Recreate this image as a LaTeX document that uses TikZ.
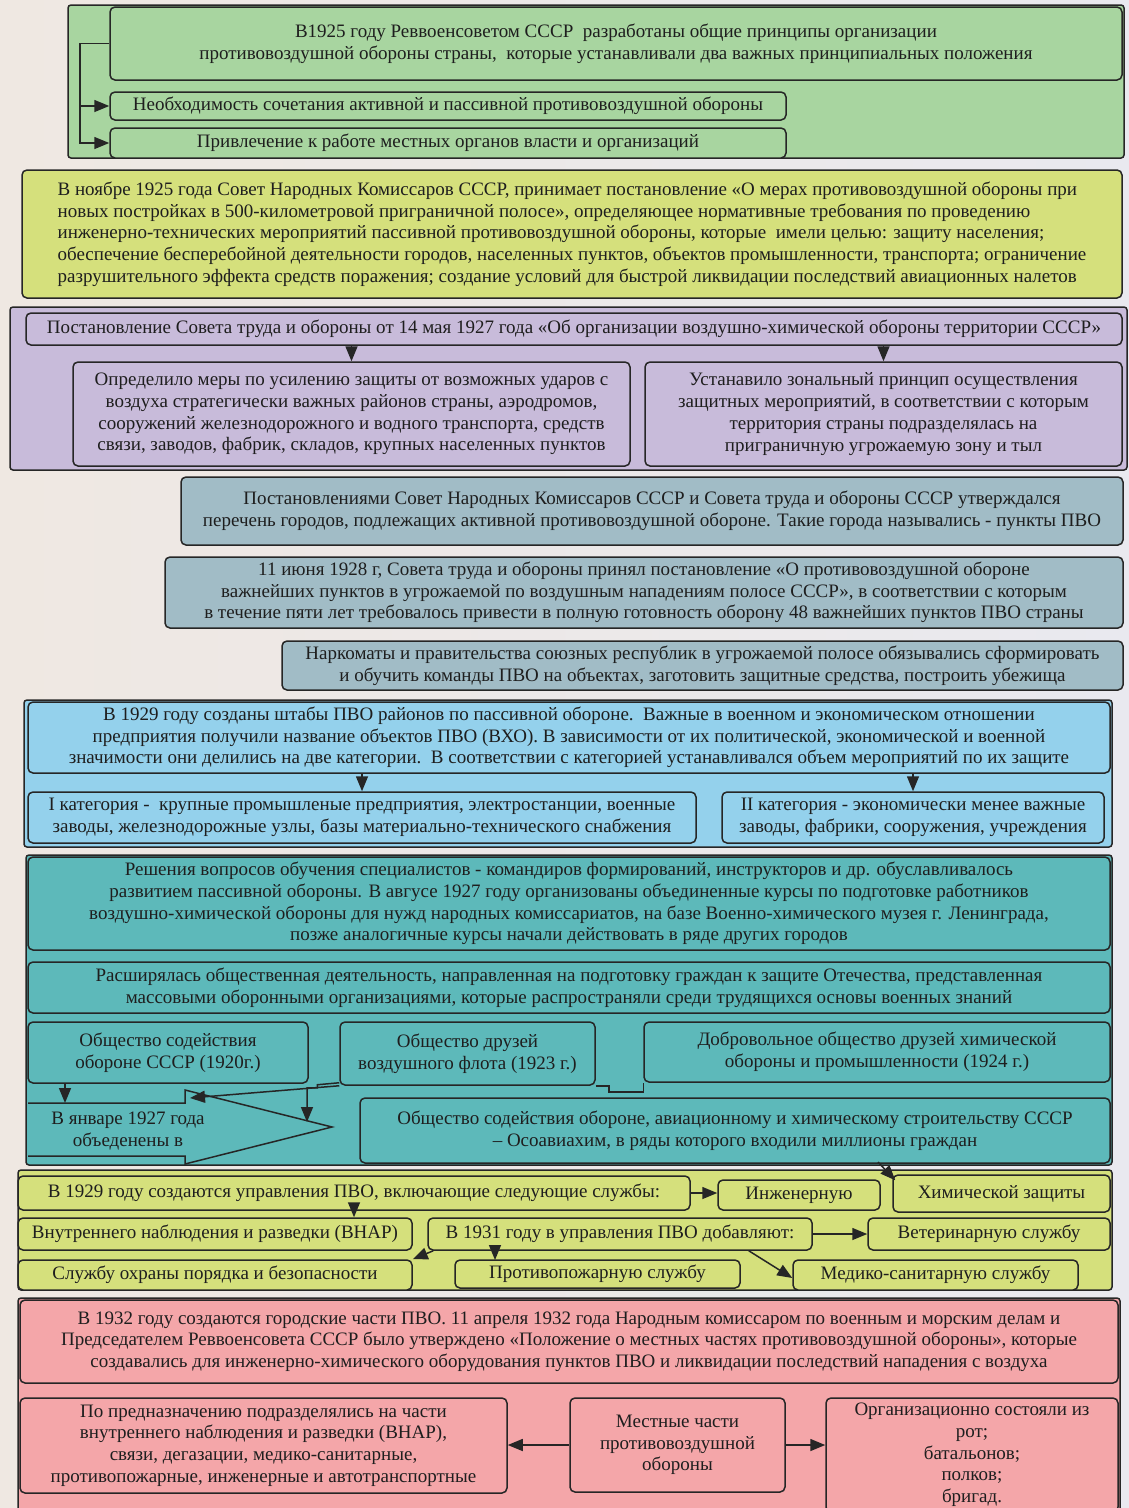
\documentclass[tikz,border=0pt]{standalone}
\usepackage{fontspec}
\setmainfont{Liberation Serif}
\usetikzlibrary{arrows.meta,positioning,calc}
\definecolor{edge}{HTML}{262626}
\definecolor{ink}{HTML}{1E1E1E}
\definecolor{bgl}{HTML}{EFE8E2}
\definecolor{bgr}{HTML}{E9E9EF}
\definecolor{grn}{HTML}{A8D5A0}
\definecolor{lime}{HTML}{D5E07C}
\definecolor{purp}{HTML}{C8BBDA}
\definecolor{slate}{HTML}{A1BCC6}
\definecolor{sky}{HTML}{94D1EC}
\definecolor{teal}{HTML}{5DB9BA}
\definecolor{rose}{HTML}{F4A6A9}
\newcommand{\fs}{\fontsize{19}{21.7}\selectfont}

\begin{document}
\begin{tikzpicture}[x=1pt,y=-1pt,>={Triangle[length=15pt,width=12pt]},
 box/.style={draw=edge, line width=1.5pt, rounded corners=5pt, inner sep=2pt,
  align=center, font=\fs, text=ink},
 frame/.style={draw=edge, line width=1.5pt, rounded corners=3pt},
 conn/.style={->, draw=edge, line width=1.5pt}]
\useasboundingbox (0,0) rectangle (1129,1508);
\shade[left color=bgl, right color=bgr] (0,0) rectangle (1129,1508);

% 1925
\draw[frame, fill=grn] (68,5) rectangle (1124,158);
\node[box, fill=grn, minimum width=1012, minimum height=73] (n1top) at (616,43.5)
 {В1925 году Реввоенсоветом СССР\ \ разработаны общие принципы организации\\
  противовоздушной обороны страны,\ \ которые устанавливали два важных принципиальных положения};
\node[box, fill=grn, minimum width=676, minimum height=28] (n1a) at (448,106)
 {Необходимость сочетания активной и пассивной противовоздушной обороны};
\node[box, fill=grn, minimum width=676, minimum height=30] (n1b) at (448,143)
 {Привлечение к работе местных органов власти и организаций};
\coordinate (j1) at (80,43.5);
\draw[conn] (n1top.west) -- (j1) |- (n1a.west);
\draw[conn] (j1) |- (n1b.west);

% ноябрь 1925
\node[box, fill=lime, minimum width=1100, minimum height=128, align=left] (n2) at (572,234)
 {В ноябре 1925 года Совет Народных Комиссаров СССР, принимает постановление «О мерах противовоздушной обороны при\\
  новых постройках в 500-километровой приграничной полосе», определяющее нормативные требования по проведению\\
  инженерно-технических мероприятий пассивной противовоздушной обороны, которые\ \ имели целью: защиту населения;\\
  обеспечение бесперебойной деятельности городов, населенных пунктов, объектов промышленности, транспорта; ограничение\\
  разрушительного эффекта средств поражения; создание условий для быстрой ликвидации последствий авиационных налетов};

% 1927
\draw[frame, fill=purp] (10,307) rectangle (1127,470);
\node[box, fill=purp, minimum width=1096, minimum height=32] (n3top) at (574,329)
 {Постановление Совета труда и обороны от 14 мая 1927 года «Об организации воздушно-химической обороны территории СССР»};
\node[box, fill=purp, minimum width=557, minimum height=104] (n3a) at (351.5,414)
 {Определило меры по усилению защиты от возможных ударов с\\
  воздуха стратегически важных районов страны, аэродромов,\\
  сооружений железнодорожного и водного транспорта, средств\\
  связи, заводов, фабрик, складов, крупных населенных пунктов};
\node[box, fill=purp, minimum width=477, minimum height=104] (n3b) at (883.5,414)
 {Устанавило зональный принцип осуществления\\
  защитных мероприятий, в соответствии с которым\\
  территория страны подразделялась на\\
  приграничную угрожаемую зону и тыл};
\draw[conn] (n3top.south -| n3a.north) -- (n3a.north);
\draw[conn] (n3top.south -| n3b.north) -- (n3b.north);

% пункты ПВО
\node[box, fill=slate, minimum width=942, minimum height=68] (n4a) at (652,511)
 {Постановлениями Совет Народных Комиссаров СССР и Совета труда и обороны СССР утверждался\\
  перечень городов, подлежащих активной противовоздушной обороне. Такие города назывались - пункты ПВО};
\node[box, fill=slate, minimum width=958, minimum height=71] (n4b) at (644,592.5)
 {11 июня 1928 г, Совета труда и обороны принял постановление «О противовоздушной обороне\\
  важнейших пунктов в угрожаемой по воздушным нападениям полосе СССР», в соответствии с которым\\
  в течение пяти лет требовалось привести в полную готовность оборону 48 важнейших пунктов ПВО страны};
\node[box, fill=slate, minimum width=841, minimum height=49] (n4c) at (702.5,665.5)
 {Наркоматы и правительства союзных республик в угрожаемой полосе обязывались сформировать\\
  и обучить команды ПВО на объектах, заготовить защитные средства, построить убежища};

% 1929 категории
\draw[frame, fill=sky] (24,700) rectangle (1112,847);
\node[box, fill=sky, minimum width=1082, minimum height=71] (n5top) at (569,737.5)
 {В 1929 году созданы штабы ПВО районов по пассивной обороне.\ \ Важные в военном и экономическом отношении\\
  предприятия получили название объектов ПВО (ВХО). В зависимости от их политической, экономической и военной\\
  значимости они делились на две категории.\ \ В соответствии с категорией устанавливался объем мероприятий по их защите};
\node[box, fill=sky, minimum width=668, minimum height=51] (n5a) at (362,817.5)
 {I категория -\ \ крупные промышленые предприятия, электростанции, военные\\
  заводы, железнодорожные узлы, базы материально-технического снабжения};
\node[box, fill=sky, minimum width=382, minimum height=51] (n5b) at (913,817.5)
 {II категория - экономически менее важные\\
  заводы, фабрики, сооружения, учреждения};
\draw[conn] (n5top.south -| n5a.north) -- (n5a.north);
\draw[conn] (n5top.south -| n5b.north) -- (n5b.north);

% общества
\draw[frame, fill=teal] (26,855) rectangle (1112,1165);
\node[box, fill=teal, minimum width=1082, minimum height=93] (n6a) at (569,903.5)
 {Решения вопросов обучения специалистов - командиров формирований, инструкторов и др. обуславливалось\\
  развитием пассивной обороны. В авгусе 1927 году организованы объединенные курсы по подготовке работников\\
  воздушно-химической обороны для нужд народных комиссариатов, на базе Военно-химического музея г. Ленинграда,\\
  позже аналогичные курсы начали действовать в ряде других городов};
\node[box, fill=teal, minimum width=1082, minimum height=51] (n6b) at (569,987.5)
 {Расширялась общественная деятельность, направленная на подготовку граждан к защите Отечества, представленная\\
  массовыми оборонными организациями, которые распространяли среди трудящихся основы военных знаний};
\node[box, fill=teal, minimum width=280, minimum height=61] (n6c1) at (168,1052.5)
 {Общество содействия\\ обороне СССР (1920г.)};
\node[box, fill=teal, minimum width=255, minimum height=63] (n6c2) at (467.5,1053.5)
 {Общество друзей\\ воздушного флота (1923 г.)};
\node[box, fill=teal, minimum width=466, minimum height=60] (n6c3) at (877,1052)
 {Добровольное общество друзей химической\\ обороны и промышленности (1924 г.)};
\node[box, fill=teal, minimum width=750, minimum height=65] (n6d) at (735,1130.5)
 {Общество содействия обороне, авиационному и химическому строительству СССР\\
  -- Осоавиахим, в ряды которого входили миллионы граждан};
\draw[draw=edge, line width=1.5pt, fill=teal] (28,1103) -- (185,1103) -- (185,1090) -- (332,1127)
 -- (185,1164) -- (185,1156) -- (28,1156);
\node[font=\fs, text=ink, align=center] (n6arr) at (128,1131) {В январе 1927 года\\ объеденены в};
\coordinate (h1) at (65,1103);
\coordinate (h2) at (190,1098);
\coordinate (h3) at (307,1122);
\draw[conn] (h1 |- n6c1.south) -- (h1);
\draw[conn] (n6c2.south west) -- (h2);
\draw[conn] ([yshift=3]n6c2.south west) -- ++(-22,2) -- ++(0,3) -| (h3);
\draw[draw=edge, line width=1.5pt] (n6c2.south east) -- ++(13,0) -- ++(0,6) -| (n6c3.south west);

% службы ПВО
\draw[frame, fill=lime] (18,1170) rectangle (1112,1290);
\node[box, fill=lime, minimum width=672, minimum height=34] (n7a) at (354,1193)
 {В 1929 году создаются управления ПВО, включающие следующие службы:};
\node[box, fill=lime, minimum width=162, minimum height=30] (n7b) at (799,1195) {Инженерную};
\node[box, fill=lime, minimum width=217, minimum height=37] (n7c) at (1001.5,1193.5) {Химической защиты};
\node[box, fill=lime, minimum width=394, minimum height=32] (n7d) at (215,1234)
 {Внутреннего наблюдения и разведки (ВНАР)};
\node[box, fill=lime, minimum width=384, minimum height=32] (n7e) at (620,1234)
 {В 1931 году в управления ПВО добавляют:};
\node[box, fill=lime, minimum width=242, minimum height=32] (n7f) at (989,1234) {Ветеринарную службу};
\node[box, fill=lime, minimum width=394, minimum height=30] (n7g) at (215,1275)
 {Службу охраны порядка и безопасности};
\node[box, fill=lime, minimum width=285, minimum height=28] (n7h) at (597.5,1274) {Противопожарную службу};
\node[box, fill=lime, minimum width=285, minimum height=30] (n7i) at (935.5,1275) {Медико-санитарную службу};
\coordinate (c7c) at (878,1162);
\coordinate (c7h) at (495,1260);
\draw[conn] (n7a.east) -- (n7a.east -| n7b.west);
\draw[conn] (c7c) -- ([shift={(3,6)}]n7c.north west);
\draw[conn] (n7a.south) -- (n7a.south |- n7d.north);
\draw[conn] (n7e.east) -- (n7f.west);
\draw[conn] ([xshift=6]n7e.south west) -- (n7g.north east);
\draw[conn] (c7h |- n7e.south) -- (c7h);
\draw[conn] ([xshift=-64]n7e.south east) -- ([yshift=-3]n7i.west);

% местные части
\draw[frame, fill=rose] (18,1298) rectangle (1120,1515);
\node[box, fill=rose, minimum width=1098, minimum height=83] (n8a) at (569,1341.5)
 {В 1932 году создаются городские части ПВО. 11 апреля 1932 года Народным комиссаром по военным и морским делам и\\
  Председателем Реввоенсовета СССР было утверждено «Положение о местных частях противовоздушной обороны», которые\\
  создавались для инженерно-химического оборудования пунктов ПВО и ликвидации последствий нападения с воздуха};
\node[box, fill=rose, minimum width=487, minimum height=95] (n8b) at (263.5,1445.5)
 {По предназначению подразделялись на части\\
  внутреннего наблюдения и разведки (ВНАР),\\
  связи, дегазации, медико-санитарные,\\
  противопожарные, инженерные и автотранспортные};
\node[box, fill=rose, minimum width=215, minimum height=94] (n8c) at (677.5,1445)
 {Местные части\\ противовоздушной\\ обороны};
\node[box, fill=rose, minimum width=292, minimum height=114] (n8d) at (972,1455)
 {Организационно состояли из\\ рот;\\ батальонов;\\ полков;\\ бригад.};
\draw[conn] (n8c.west) -- (n8c.west -| n8b.east);
\draw[conn] (n8c.east) -- (n8c.east -| n8d.west);
\end{tikzpicture}
\end{document}
